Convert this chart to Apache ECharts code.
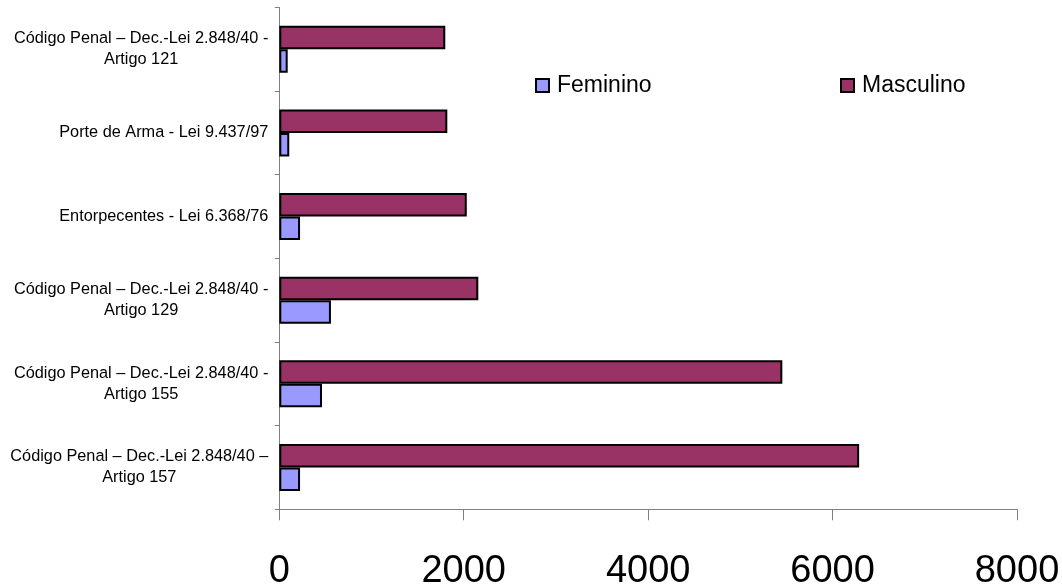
<!DOCTYPE html>
<html>
<head>
<meta charset="utf-8">
<script src="https://cdn.jsdelivr.net/npm/echarts@6/dist/echarts.min.js"></script>
<style>
  html, body { margin: 0; padding: 0; background: #fff; }
  #chart { width: 1062px; height: 588px; }
</style>
</head>
<body>
<div id="chart"></div>
<script>
// Categories listed bottom to top (ECharts draws the first category at the bottom)
const categories = [
  'Código Penal – Dec.-Lei 2.848/40 –\nArtigo 157',
  'Código Penal – Dec.-Lei 2.848/40 -\nArtigo 155',
  'Código Penal – Dec.-Lei 2.848/40 -\nArtigo 129',
  'Entorpecentes - Lei 6.368/76',
  'Porte de Arma - Lei 9.437/97',
  'Código Penal – Dec.-Lei 2.848/40 -\nArtigo 121'
];
const feminino = [225, 463, 560, 225, 108, 91];
const masculino = [6288, 5455, 2158, 2033, 1822, 1800];
const xTicks = [0, 2000, 4000, 6000, 8000];

const SANS = "'Liberation Sans', Arial, sans-serif";

const chart = echarts.init(document.getElementById('chart'), null, { renderer: 'canvas' });

chart.setOption({
  animation: false,
  backgroundColor: '#ffffff',
  grid: { left: 279.3, right: 45, top: 7.4, bottom: 78.7, containLabel: false, outerBoundsMode: 'none' },
  legend: [
    {
      data: ['Feminino'], left: 535, top: 74, padding: 0,
      itemWidth: 13, itemHeight: 13, icon: 'rect',
      textStyle: { fontFamily: SANS, fontSize: 23, color: '#000', padding: [0, 0, 0, 3] }
    },
    {
      data: ['Masculino'], left: 840, top: 74, padding: 0,
      itemWidth: 13, itemHeight: 13, icon: 'rect',
      textStyle: { fontFamily: SANS, fontSize: 23, color: '#000', padding: [0, 0, 0, 3] }
    }
  ],
  xAxis: {
    type: 'value',
    min: xTicks[0], max: xTicks[xTicks.length - 1], interval: xTicks[1] - xTicks[0],
    splitLine: { show: false },
    axisLine: { show: true, lineStyle: { color: '#808080', width: 1 } },
    axisTick: { show: true, length: 11, lineStyle: { color: '#808080' } },
    axisLabel: {
      fontFamily: SANS, fontSize: 38, color: '#000', margin: 43,
      formatter: function (v) { return String(v); }
    }
  },
  yAxis: {
    type: 'category',
    data: categories,
    axisLine: { show: true, lineStyle: { color: '#808080', width: 1 } },
    axisTick: { show: true, length: 4.5, lineStyle: { color: '#808080' } },
    axisLabel: {
      margin: 11, align: 'right', color: '#000',
      fontFamily: SANS, fontSize: 16.3, lineHeight: 21,
      formatter: function (v) {
        return v.split('\n').map(function (l) { return '{c|' + l + '}'; }).join('\n');
      },
      rich: { c: { align: 'center', fontFamily: SANS, fontSize: 16.3, lineHeight: 21, color: '#000' } }
    }
  },
  // Masculino listed first so it sits above Feminino inside each band
  series: [
    {
      name: 'Masculino', type: 'bar', data: masculino,
      barWidth: 23.5, barGap: '0%',
      itemStyle: { color: '#993366', borderColor: '#000', borderWidth: 2 }
    },
    {
      name: 'Feminino', type: 'bar', data: feminino,
      barWidth: 23.5, barGap: '0%',
      itemStyle: { color: '#9999FF', borderColor: '#000', borderWidth: 2 }
    }
  ]
});
</script>
</body>
</html>
